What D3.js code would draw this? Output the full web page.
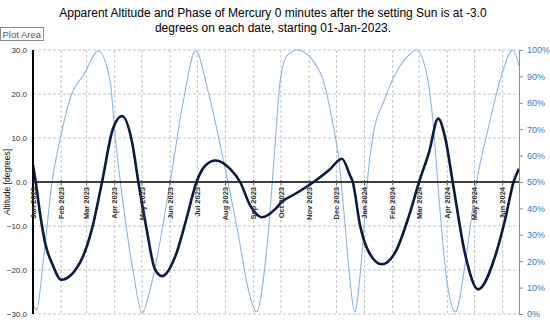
<!DOCTYPE html>
<html><head><meta charset="utf-8">
<script src="https://cdn.jsdelivr.net/npm/d3@7"></script>
<style>
body{margin:0;background:#fff;}
svg{display:block;font-family:Arial,"Liberation Sans",sans-serif;}
</style></head>
<body><svg id="chart" width="550" height="325"></svg>
<script>
const titleLines = ["Apparent Altitude and Phase of Mercury 0 minutes after the setting Sun is at -3.0",
                    "degrees on each date, starting 01-Jan-2023."];
const yTitle = "Altitude [degrees]";
const leftTicks = [-30, -20, -10, 0, 10, 20, 30];
const rightTicks = [0, 10, 20, 30, 40, 50, 60, 70, 80, 90, 100];

const altDates = ["2023-01-01","2023-01-04","2023-01-09","2023-01-14","2023-01-23","2023-02-01","2023-02-22","2023-03-07","2023-03-18","2023-03-30","2023-04-09","2023-04-20","2023-04-27","2023-05-06","2023-05-15","2023-05-23","2023-06-07","2023-06-19","2023-06-30","2023-07-10","2023-07-21","2023-08-06","2023-08-17","2023-08-28","2023-09-10","2023-09-25","2023-10-02","2023-10-15","2023-11-06","2023-11-23","2023-12-07","2023-12-16","2023-12-19","2023-12-27","2024-01-04","2024-01-20","2024-02-04","2024-02-19","2024-03-01","2024-03-12","2024-03-22","2024-03-30","2024-04-07","2024-04-21","2024-05-05","2024-05-24","2024-06-04","2024-06-13","2024-06-19"];
const altValues = [3.9,0,-7.5,-13.5,-19,-22.2,-18.2,-10.6,0,12.1,15.0,9.1,0,-10.6,-19.7,-21.4,-16.7,-8.3,0,3.8,4.9,3.0,0,-5.3,-8.0,-6.1,-4.5,-2.9,0,2.7,5.3,1.5,0,-9.8,-15.2,-18.7,-15.9,-7.6,0,6.8,14.4,9.8,0,-16.7,-24.4,-16.7,-8.3,0,3.0];

const phaseDates = ["2023-01-01","2023-01-05","2023-01-12","2023-01-22","2023-01-31","2023-02-13","2023-02-26","2023-03-14","2023-03-27","2023-04-01","2023-04-11","2023-04-22","2023-05-01","2023-05-10","2023-06-01","2023-06-16","2023-06-29","2023-07-13","2023-07-30","2023-08-14","2023-08-26","2023-09-04","2023-09-16","2023-09-25","2023-09-30","2023-10-08","2023-10-19","2023-11-06","2023-11-17","2023-11-26","2023-12-04","2023-12-11","2023-12-17","2023-12-21","2023-12-29","2024-01-04","2024-01-11","2024-01-22","2024-02-04","2024-02-17","2024-02-27","2024-03-08","2024-03-16","2024-03-23","2024-03-30","2024-04-10","2024-04-21","2024-05-02","2024-05-17","2024-06-01","2024-06-12","2024-06-19"];
const phaseValues = [4,1.5,19,50,66.5,83.6,90.6,99.7,88,69,39.8,14.5,0.3,9.4,50,81.7,99.7,84,57.6,32,9.4,0.8,27,66.5,88,98,100,95.6,88,74,57.6,32,9.4,0.8,22,50,69,80.4,91,97.5,100,93,74,43.6,17,0.8,19.6,47.5,71.6,91.8,100,94];

const startDate = "2023-01-01", endDate = "2024-06-19";

const parse = d3.utcParse("%Y-%m-%d");
const svg = d3.select("#chart");
const L = 33, R = 519, T = 50, B = 314;

const x = d3.scaleUtc().domain([parse(startDate), parse(endDate)]).range([L, R]);
const yL = d3.scaleLinear().domain([-30, 30]).range([B, T]);
const yR = d3.scaleLinear().domain([0, 100]).range([B, T]);

// title
svg.append("g").selectAll("text").data(titleLines).join("text")
  .attr("x", 273).attr("y", (d, i) => 17 + i * 15)
  .attr("text-anchor", "middle").attr("font-size", 12).attr("fill", "#000").text(d => d);

// Plot Area tooltip box
const pa = svg.append("g");
pa.append("rect").attr("x", 0.5).attr("y", 27.5).attr("width", 43).attr("height", 13)
  .attr("fill", "#fff").attr("stroke", "#8a8a8a");
pa.append("text").attr("x", 2.5).attr("y", 37.5).attr("font-size", 9.5).attr("fill", "#555").text("Plot Area");

// gridlines
const months = d3.utcMonth.range(parse(startDate), d3.utcDay.offset(parse(endDate), 1));
svg.append("g").selectAll("line").data(months.filter(m => x(m) > L + 1)).join("line")
  .attr("x1", d => x(d)).attr("x2", d => x(d)).attr("y1", T).attr("y2", B)
  .attr("stroke", "#c4c4c4").attr("stroke-width", 1).attr("stroke-dasharray", "3,2");
svg.append("g").selectAll("line").data(leftTicks.filter(t => t !== 0)).join("line")
  .attr("x1", L).attr("x2", R).attr("y1", d => yL(d)).attr("y2", d => yL(d))
  .attr("stroke", "#c4c4c4").attr("stroke-width", 1).attr("stroke-dasharray", "3,2");

// right axis
const ra = svg.append("g").attr("transform", `translate(${R},0)`)
  .call(d3.axisRight(yR).tickValues(rightTicks).tickFormat(d => d + "%").tickSize(4).tickPadding(4));
ra.select(".domain").attr("stroke", "#8c8c8c");
ra.selectAll(".tick line").attr("stroke", "#8c8c8c");
ra.selectAll("text").attr("font-size", 9).attr("fill", "#3a78c2").attr("font-family", "Arial, Liberation Sans, sans-serif");

// left axis labels
const la = svg.append("g").attr("transform", `translate(${L},0)`)
  .call(d3.axisLeft(yL).tickValues(leftTicks).tickFormat(d3.format(".1f")).tickSize(0).tickPadding(6));
la.select(".domain").remove();
la.selectAll("text").attr("font-size", 8).attr("fill", "#333").attr("font-family", "Arial, Liberation Sans, sans-serif");

// y title
svg.append("text").attr("transform", `translate(10,${yL(0)}) rotate(-90)`)
  .attr("text-anchor", "middle").attr("font-size", 8.5).attr("fill", "#111").text(yTitle);

// clip
svg.append("clipPath").attr("id", "clip").append("rect")
  .attr("x", L).attr("y", T - 2).attr("width", R - L).attr("height", B - T + 4);

// phase line
const phaseData = phaseDates.map((d, i) => ({ d: parse(d), v: phaseValues[i] }));
svg.append("path").datum(phaseData).attr("clip-path", "url(#clip)")
  .attr("fill", "none").attr("stroke", "#8fb4e0").attr("stroke-width", 1.1)
  .attr("d", d3.line().x(p => x(p.d)).y(p => yR(p.v)).curve(d3.curveMonotoneX));

// zero line
svg.append("line").attr("x1", L).attr("x2", R).attr("y1", yL(0)).attr("y2", yL(0))
  .attr("stroke", "#000").attr("stroke-width", 1.5);
// month ticks on zero line
svg.append("g").selectAll("line").data(months).join("line")
  .attr("x1", d => x(d)).attr("x2", d => x(d)).attr("y1", yL(0) - 2).attr("y2", yL(0) + 3)
  .attr("stroke", "#555").attr("stroke-width", 1);

// altitude line
const altData = altDates.map((d, i) => ({ d: parse(d), v: altValues[i] }));
svg.append("path").datum(altData).attr("clip-path", "url(#clip)")
  .attr("fill", "none").attr("stroke", "#0b1a3c").attr("stroke-width", 2.6)
  .attr("d", d3.line().x(p => x(p.d)).y(p => yL(p.v)).curve(d3.curveMonotoneX));

// left axis line
svg.append("line").attr("x1", L).attr("x2", L).attr("y1", T).attr("y2", B)
  .attr("stroke", "#000").attr("stroke-width", 2);

// month labels
const fmt = d3.utcFormat("%b %Y");
svg.append("g").selectAll("text").data(months).join("text")
  .attr("transform", d => `translate(${x(d)},${yL(0) + 5}) rotate(-90)`)
  .attr("text-anchor", "end").attr("dy", "0.35em")
  .attr("font-size", 7.5).attr("font-weight", "bold").attr("fill", "#333").text(d => fmt(d));
</script></body></html>
